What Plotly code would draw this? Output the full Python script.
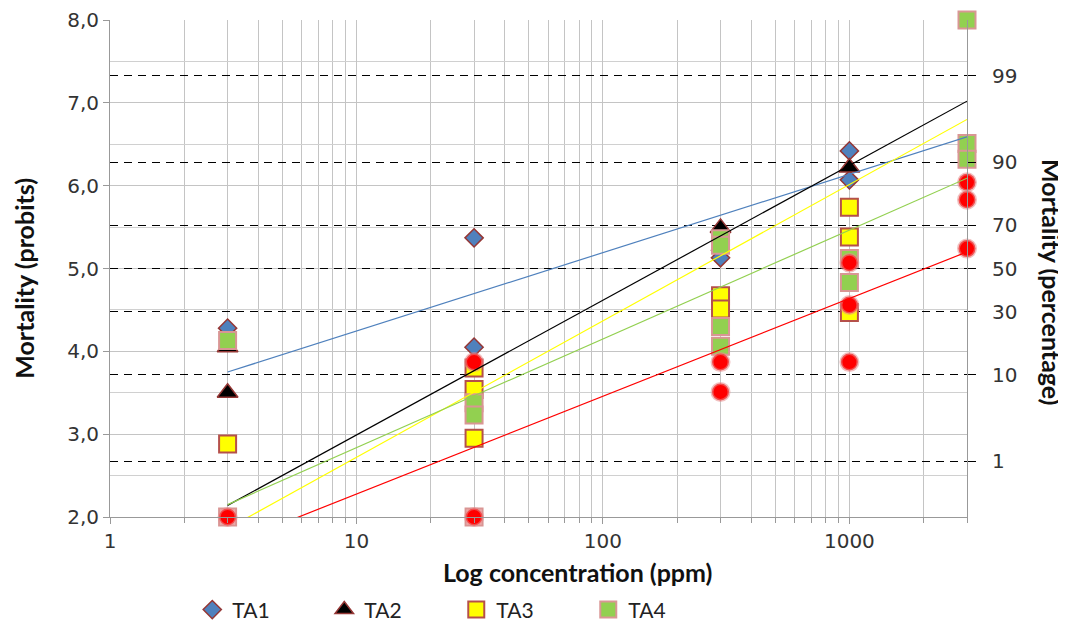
import math
import plotly.graph_objects as go

# ---------------- data ----------------
ta1_x = [3, 30, 30, 300, 300, 1000, 1000]
ta1_y = [4.28, 5.37, 4.05, 5.22, 5.13, 6.42, 6.07]

ta2_x = [3, 3, 300, 1000]
ta2_y = [4.05, 3.50, 5.49, 6.22]

ta3_x = [3, 30, 30, 30, 300, 300, 1000, 1000, 1000]
ta3_y = [2.88, 3.80, 3.54, 2.95, 4.67, 4.51, 5.74, 5.38, 4.47]

ta4_x = [3, 3, 30, 30, 30, 300, 300, 300, 300, 1000, 1000, 3000, 3000, 3000]
ta4_y = [4.13, 2.00, 3.38, 3.23, 2.00, 5.36, 5.28, 4.30, 4.06, 5.12, 4.83, 8.00, 6.51, 6.32]

ta5_x = [3, 30, 30, 300, 300, 1000, 1000, 1000, 3000, 3000, 3000]
ta5_y = [2.00, 3.87, 2.00, 3.87, 3.51, 5.07, 4.56, 3.87, 6.04, 5.83, 5.24]

# fitted regression lines (values at 3 and 3000 ppm)
fit_x = [3, 3000]
fit_ta1 = [3.75, 6.59]
fit_ta2 = [2.14, 7.02]
fit_ta3 = [1.86, 6.80]
fit_ta4 = [2.15, 6.09]
fit_ta5 = [1.66, 5.20]

# axis ticks
probit_ticks = [2, 3, 4, 5, 6, 7, 8]
probit_labels = ["2,0", "3,0", "4,0", "5,0", "6,0", "7,0", "8,0"]
pct_labels = ["1", "10", "30", "50", "70", "90", "99"]
pct_probits = [2.674, 3.718, 4.476, 5.0, 5.524, 6.282, 7.326]
x_ticks = [1, 10, 100, 1000]

# ---------------- figure ----------------
fig = go.Figure()

ta4_fill = ["#F2C4C4" if v <= 2.0 else "#92D050" for v in ta4_y]

fig.add_trace(go.Scatter(x=ta1_x, y=ta1_y, mode="markers", name="TA1", cliponaxis=False,
                         marker=dict(symbol="diamond", size=14, color="#4F81BD",
                                     line=dict(color="#953735", width=1.5))))
fig.add_trace(go.Scatter(x=ta2_x, y=ta2_y, mode="markers", name="TA2", cliponaxis=False,
                         marker=dict(symbol="triangle-up", size=18, color="#000000",
                                     line=dict(color="#953735", width=1.5))))
fig.add_trace(go.Scatter(x=ta3_x, y=ta3_y, mode="markers", name="TA3", cliponaxis=False,
                         marker=dict(symbol="square", size=17, color="#FFFF00",
                                     line=dict(color="#B5504A", width=2))))
fig.add_trace(go.Scatter(x=ta4_x, y=ta4_y, mode="markers", name="TA4", cliponaxis=False,
                         marker=dict(symbol="square", size=17, color=ta4_fill,
                                     line=dict(color="#D99694", width=2))))
fig.add_trace(go.Scatter(x=ta5_x, y=ta5_y, mode="markers", name="TA5", cliponaxis=False,
                         showlegend=False,
                         marker=dict(symbol="circle", size=17, color="#FF0000",
                                     line=dict(color="rgba(230,140,140,0.55)", width=3))))

for yy, col in [(fit_ta1, "#4F81BD"), (fit_ta2, "#000000"), (fit_ta3, "#FFFF00"),
                (fit_ta4, "#92D050"), (fit_ta5, "#FF0000")]:
    fig.add_trace(go.Scatter(x=fit_x, y=yy, mode="lines", showlegend=False,
                             hoverinfo="skip", line=dict(color=col, width=1.2)))

# invisible trace to activate right axis
fig.add_trace(go.Scatter(x=fit_x, y=[5, 5], yaxis="y2", mode="lines", showlegend=False,
                         hoverinfo="skip", line=dict(color="rgba(0,0,0,0)")))

grid = "#C4C4C4"
tickfont = dict(family="DejaVu Sans", size=20, color="#333333")
titlefont = dict(family="Lato", size=25, color="#111111")

fig.update_layout(
    width=1066, height=630,
    margin=dict(l=102, r=107, t=12, b=121, autoexpand=False),
    paper_bgcolor="white", plot_bgcolor="white",
    showlegend=True,
    legend=dict(orientation="h", x=0.096, y=-0.187, xanchor="left", yanchor="middle",
                font=dict(family="Lato", size=21, color="#222222"),
                entrywidth=87, entrywidthmode="pixels", traceorder="normal"),
    xaxis=dict(type="log", range=[0, math.log10(3000)], tickvals=x_ticks,
               ticktext=[str(v) for v in x_ticks], tickfont=tickfont, automargin=False,
               showline=True, linecolor="#999999", linewidth=1,
               ticks="outside", ticklen=6, tickcolor="#999999",
               showgrid=True, gridcolor=grid, gridwidth=1, zeroline=False,
               minor=dict(dtick="D1", showgrid=True, gridcolor=grid, ticks="outside",
                          ticklen=5, tickcolor="#999999")),
    yaxis=dict(range=[2, 8], tickvals=probit_ticks, ticktext=probit_labels,
               tickfont=tickfont, showline=True, linecolor="#999999", linewidth=1,
               ticks="outside", ticklen=6, tickcolor="#999999", automargin=False,
               showgrid=True, gridcolor=grid, zeroline=False,
               minor=dict(dtick=0.5, showgrid=True, gridcolor="#D0D0D0")),
    yaxis2=dict(range=[2, 8], overlaying="y", side="right", tickvals=pct_probits,
                ticktext=pct_labels, tickfont=tickfont, showline=True, automargin=False,
                linecolor="#999999", linewidth=1, ticks="outside", ticklen=8,
                tickcolor="#000000", ticklabelstandoff=12,
                showgrid=True, gridcolor="#000000", griddash="8px,6px", gridwidth=1.2,
                zeroline=False),
    annotations=[
        dict(text="<b>Log concentration (ppm)</b>", xref="paper", yref="paper",
             x=0.546, y=-0.111, xanchor="center", yanchor="middle", showarrow=False,
             font=titlefont),
        dict(text="<b>Mortality (probits)</b>", xref="paper", yref="paper",
             x=-0.1, y=0.48, xanchor="center", yanchor="middle", showarrow=False,
             textangle=-90, font=titlefont),
        dict(text="<b>Mortality (percentage)</b>", xref="paper", yref="paper",
             x=1.099, y=0.473, xanchor="center", yanchor="middle", showarrow=False,
             textangle=90, font=titlefont),
    ],
)

fig.write_html("out.html")
